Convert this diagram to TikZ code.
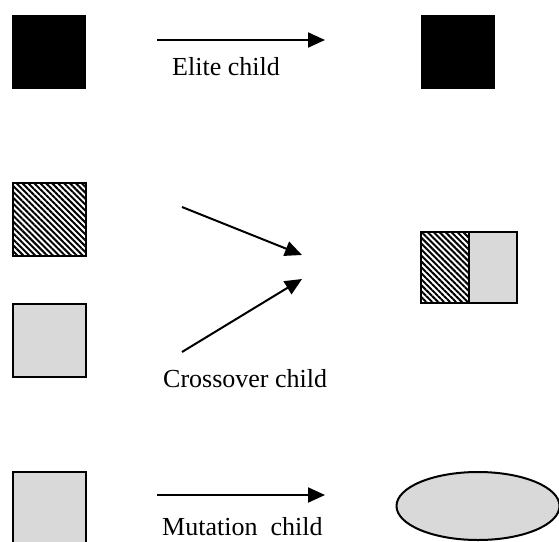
\documentclass[tikz,border=0pt]{standalone}
\usepackage{fontspec}
\setmainfont{Liberation Serif}
\usetikzlibrary{arrows.meta,patterns.meta,shapes.geometric}
\definecolor{lightfill}{HTML}{D9D9D9}
\tikzset{
  blackbox/.style={fill=black,draw=none,inner sep=0pt,minimum width=74pt,minimum height=74pt},
  greybox/.style={fill=lightfill,draw=black,line width=2pt,inner sep=0pt},
  hatchbox/.style={fill=white,pattern={Lines[angle=-45,distance=4.2pt,line width=2pt]},draw=black,line width=2pt,inner sep=0pt},
  arr/.style={line width=2pt,-{Triangle[length=17pt,width=15pt]}},
  lbl/.style={anchor=base west,inner sep=0pt,font=\fontsize{26}{30}\selectfont}
}
\begin{document}
\begin{tikzpicture}[x=1pt,y=-1pt]
\path[use as bounding box,clip] (0,0) rectangle (559,541);
% row 1: elite
\node[blackbox] (e1) at (49,52) {};
\node[blackbox] (e2) at (458,52) {};
\coordinate (ea) at (157,40);
\coordinate (eb) at (325,40);
\draw[arr] (ea) -- (eb);
\node[lbl] (elbl) at (172,75) {Elite child};
% row 2: crossover
\node[hatchbox,minimum width=73pt,minimum height=73pt] (p1) at (49.5,219.5) {};
\node[greybox,minimum width=73pt,minimum height=73pt] (p2) at (49.5,340) {};
\coordinate (c1a) at (182,207);
\coordinate (c1b) at (302,255);
\coordinate (c2a) at (182,352);
\coordinate (c2b) at (302,279);
\draw[arr] (c1a) -- (c1b);
\draw[arr] (c2a) -- (c2b);
\node[lbl] (clbl) at (163,387) {Crossover child};
\node[hatchbox,minimum width=48pt,minimum height=71pt] (cl) at (445,267.5) {};
\node[greybox,minimum width=48pt,minimum height=71pt] (cr) at (493,267.5) {};
% row 3: mutation
\node[greybox,minimum width=73pt,minimum height=100pt] (m1) at (49.5,522) {};
\coordinate (ma) at (157,495);
\coordinate (mb) at (325,495);
\draw[arr] (ma) -- (mb);
\node[lbl] (mlbl) at (162,535) {Mutation\ \ child};
\node[ellipse,fill=lightfill,draw=black,line width=2pt,minimum width=163pt,minimum height=68pt,inner sep=0pt] (m2) at (478,506) {};
\end{tikzpicture}
\end{document}
